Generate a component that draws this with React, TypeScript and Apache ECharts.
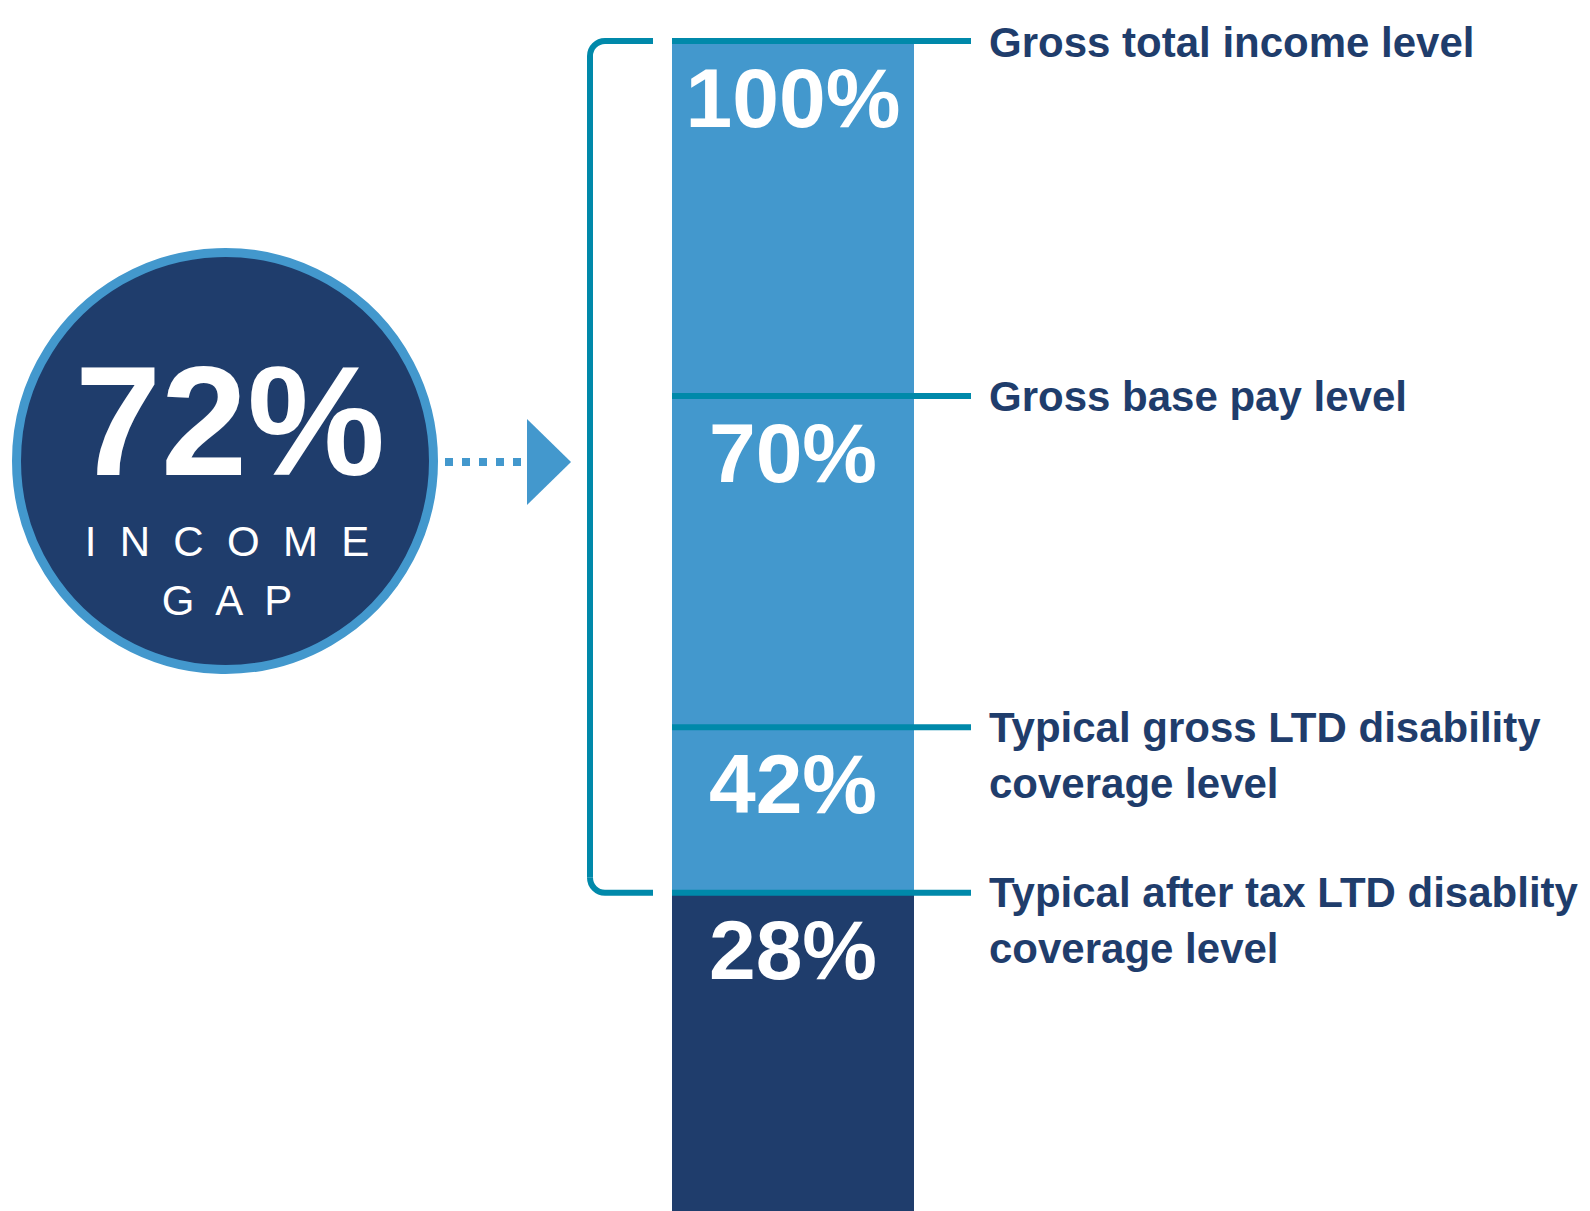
import React, { useEffect, useRef } from "react";
import * as echarts from "echarts";

// ---- data ----
const levels = [100, 70, 42, 28];
const levelNames = [
  "Gross total income level",
  "Gross base pay level",
  "Typical gross LTD disability\ncoverage level",
  "Typical after tax LTD disablity\ncoverage level",
];
const gapValue = 72;
const gapWords = ["INCOME", "GAP"];

// ---- styles ----
const LIGHT = "#4398cd";
const NAVY = "#1f3d6c";
const TEAL = "#0089aa";
const FONT = "'Liberation Sans', Arial, Helvetica, sans-serif";

export default function App() {
  const ref = useRef<HTMLDivElement>(null);

  useEffect(() => {
    const chart = echarts.init(ref.current!, null, { renderer: "svg" });
    const asc = [...levels].sort((a, b) => a - b);
    const segs = asc.map((v, i) => v - (i ? asc[i - 1] : 0));

    const series = segs.map((s, i) => ({
      type: "bar",
      stack: "total",
      barWidth: "100%",
      data: [s],
      silent: true,
      itemStyle: { color: i === 0 ? NAVY : LIGHT },
      label: {
        show: true,
        position: "insideTop",
        distance: 15,
        formatter: `${asc[i]}%`,
        color: "#ffffff",
        fontSize: 84,
        fontWeight: "bold",
        fontFamily: FONT,
      },
    }));

    chart.setOption({
      animation: false,
      grid: { left: 672, top: 41, width: 242, height: 1183 },
      xAxis: { type: "category", data: ["income"], show: false },
      yAxis: { type: "value", min: 0, max: 100, show: false, splitLine: { show: false } },
      series,
    });

    const py = (v: number) => chart.convertToPixel({ yAxisIndex: 0 }, v) as number;
    const barLeft = 672;
    const lineRight = 971;
    const textX = 989;

    const elements: any[] = [];

    // level lines and descriptions
    levels.forEach((v, i) => {
      const y = py(v);
      elements.push({
        type: "line",
        z: 100,
        shape: { x1: barLeft, y1: y, x2: lineRight, y2: y },
        style: { stroke: TEAL, lineWidth: 6 },
      });
      const multi = levelNames[i].includes("\n");
      elements.push({
        type: "text",
        z: 100,
        x: textX,
        y: multi ? y - 28 : y + 1,
        style: {
          text: levelNames[i],
          fill: NAVY,
          fontSize: 42,
          fontWeight: "bold",
          fontFamily: FONT,
          align: "left",
          verticalAlign: multi ? "top" : "middle",
          lineHeight: 56,
        },
      });
    });

    // bracket spanning the gap
    const yTop = py(Math.max(...levels));
    const yBot = py(Math.min(...levels));
    const bx = 590;
    const r = 15;
    const armEnd = 653;
    const bStyle = { stroke: TEAL, lineWidth: 6, fill: null };
    elements.push(
      { type: "line", z: 100, shape: { x1: bx + r, y1: yTop, x2: armEnd, y2: yTop }, style: bStyle },
      { type: "line", z: 100, shape: { x1: bx + r, y1: yBot, x2: armEnd, y2: yBot }, style: bStyle },
      { type: "line", z: 100, shape: { x1: bx, y1: yTop + r, x2: bx, y2: yBot - r }, style: bStyle },
      {
        type: "arc",
        z: 100,
        shape: { cx: bx + r, cy: yTop + r, r, startAngle: Math.PI, endAngle: Math.PI * 1.5 },
        style: bStyle,
      },
      {
        type: "arc",
        z: 100,
        shape: { cx: bx + r, cy: yBot - r, r, startAngle: Math.PI * 0.5, endAngle: Math.PI },
        style: bStyle,
      }
    );

    // circle badge
    elements.push(
      {
        type: "circle",
        z: 100,
        shape: { cx: 225, cy: 461, r: 208.5 },
        style: { fill: NAVY, stroke: LIGHT, lineWidth: 9 },
      },
      {
        type: "text",
        z: 101,
        x: 230,
        y: 421,
        style: {
          text: `${gapValue}%`,
          fill: "#ffffff",
          fontSize: 155,
          fontWeight: "bold",
          fontFamily: FONT,
          align: "center",
          verticalAlign: "middle",
        },
      },
      {
        type: "text",
        z: 101,
        x: 227,
        y: 541,
        style: {
          text: gapWords[0].split("").join("  "),
          fill: "#ffffff",
          fontSize: 42,
          fontFamily: FONT,
          align: "center",
          verticalAlign: "middle",
        },
      },
      {
        type: "text",
        z: 101,
        x: 227,
        y: 600,
        style: {
          text: gapWords[1].split("").join("  "),
          fill: "#ffffff",
          fontSize: 42,
          fontFamily: FONT,
          align: "center",
          verticalAlign: "middle",
        },
      }
    );

    // dotted arrow
    elements.push(
      {
        type: "line",
        z: 100,
        shape: { x1: 445, y1: 462, x2: 521, y2: 462 },
        style: { stroke: LIGHT, lineWidth: 8, lineDash: [8, 9], lineCap: "butt" },
      },
      {
        type: "polygon",
        z: 100,
        shape: { points: [[527, 419], [571, 462], [527, 505]] },
        style: { fill: LIGHT },
      }
    );

    chart.setOption({ graphic: elements });

    return () => chart.dispose();
  }, []);

  return (
    <div
      style={{
        position: "fixed",
        left: 0,
        top: 0,
        width: 1590,
        height: 1211,
        overflow: "hidden",
        background: "#ffffff",
      }}
    >
      <div ref={ref} style={{ width: 1590, height: 1240 }} />
    </div>
  );
}
